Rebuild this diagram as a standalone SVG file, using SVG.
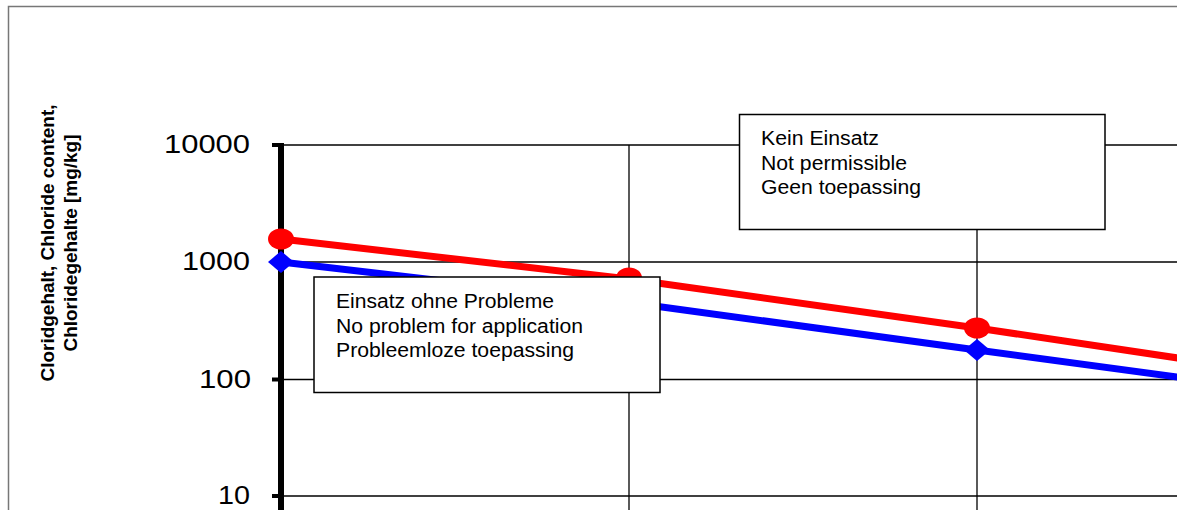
<svg xmlns="http://www.w3.org/2000/svg" width="1177" height="510" viewBox="0 0 1177 510">
<style>
.grid{stroke:#000;stroke-width:1.3;fill:none}
.tick{stroke:#000;stroke-width:4}
.lbl{font-family:"Liberation Sans",Arial,sans-serif;font-size:25px;fill:#000;text-anchor:end}
.box{fill:#fff;stroke:#000;stroke-width:1.5}
.bt{font-family:"Liberation Sans",Arial,sans-serif;font-size:19.5px;fill:#000}
.title{font-family:"Liberation Sans",Arial,sans-serif;font-size:19px;font-weight:bold;fill:#000;text-anchor:middle}
</style>
<rect width="1177" height="510" fill="#fff"/>
<g id="frame">
<path d="M8.5,510 V6.5 H1177" fill="none" stroke="#777" stroke-width="1.5"/>
</g>
<g id="grid">
<line class="grid" x1="281" y1="145" x2="1177" y2="145"/>
<line class="grid" x1="281" y1="262" x2="1177" y2="262"/>
<line class="grid" x1="281" y1="379.5" x2="1177" y2="379.5"/>
<line class="grid" x1="281" y1="496" x2="1177" y2="496"/>
<line class="grid" x1="629" y1="145" x2="629" y2="510"/>
<line class="grid" x1="977" y1="145" x2="977" y2="510"/>
</g>
<g id="axis">
<line x1="281" y1="143" x2="281" y2="510" stroke="#000" stroke-width="6"/>
<line class="tick" x1="272" y1="145" x2="281" y2="145"/>
<line class="tick" x1="272" y1="262" x2="281" y2="262"/>
<line class="tick" x1="272" y1="379.5" x2="281" y2="379.5"/>
<line class="tick" x1="272" y1="496" x2="281" y2="496"/>
<text class="lbl" x="250" y="153" textLength="86" lengthAdjust="spacingAndGlyphs">10000</text>
<text class="lbl" x="250" y="270" textLength="68" lengthAdjust="spacingAndGlyphs">1000</text>
<text class="lbl" x="251" y="388" textLength="52" lengthAdjust="spacingAndGlyphs">100</text>
<text class="lbl" x="250" y="504" textLength="32" lengthAdjust="spacingAndGlyphs">10</text>
</g>
<g id="axis-title">
<text class="title" transform="translate(54,243) rotate(-90)" textLength="277" lengthAdjust="spacingAndGlyphs">Cloridgehalt, Chloride content,</text>
<text class="title" transform="translate(77,243) rotate(-90)" textLength="217" lengthAdjust="spacingAndGlyphs">Chloridegehalte [mg/kg]</text>
</g>
<g id="connectors">
<polyline points="281,239 629,279 977,328 1325,380" fill="none" stroke="#f00" stroke-width="7"/>
<polyline points="281,262 629,302.5 977,350 1325,397" fill="none" stroke="#00f" stroke-width="7"/>
</g>
<g id="markers">
<ellipse cx="281" cy="239" rx="13" ry="10.5" fill="#f00"/>
<ellipse cx="629" cy="278" rx="13" ry="10.5" fill="#f00"/>
<ellipse cx="977" cy="328" rx="13" ry="10.5" fill="#f00"/>
<polygon points="281,251 294,262 281,273 268,262" fill="#00f"/>
<polygon points="977,339 990,350 977,361 964,350" fill="#00f"/>
</g>
<g id="box-ok">
<rect class="box" x="314" y="277" width="346" height="115.5"/>
<text class="bt" x="336" y="308" textLength="218" lengthAdjust="spacingAndGlyphs">Einsatz ohne Probleme</text>
<text class="bt" x="336" y="332.5" textLength="247" lengthAdjust="spacingAndGlyphs">No problem for application</text>
<text class="bt" x="336" y="357" textLength="238" lengthAdjust="spacingAndGlyphs">Probleemloze toepassing</text>
</g>
<g id="box-no">
<rect class="box" x="739.5" y="114.5" width="365.5" height="115"/>
<text class="bt" x="761" y="145" textLength="118" lengthAdjust="spacingAndGlyphs">Kein Einsatz</text>
<text class="bt" x="761" y="169.5" textLength="146" lengthAdjust="spacingAndGlyphs">Not permissible</text>
<text class="bt" x="761" y="194" textLength="160" lengthAdjust="spacingAndGlyphs">Geen toepassing</text>
</g>
</svg>
